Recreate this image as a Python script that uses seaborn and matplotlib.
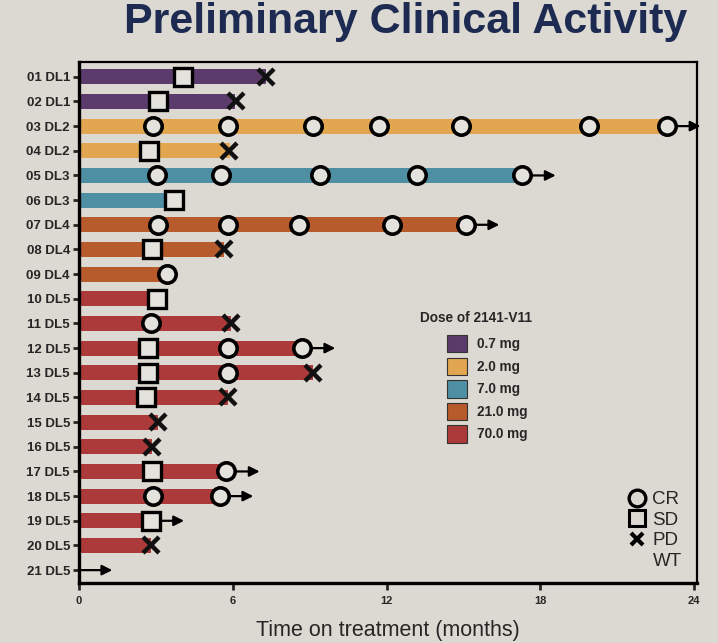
import matplotlib
matplotlib.use('Agg')
import matplotlib.pyplot as plt
from matplotlib.patches import Patch
from matplotlib.lines import Line2D
import seaborn as sns
import pandas as pd

# Datos del gráfico
patients = ['01 DL1', '02 DL1', '03 DL2', '04 DL2', '05 DL3', '06 DL3', '07 DL4',
            '08 DL4', '09 DL4', '10 DL5', '11 DL5', '12 DL5', '13 DL5', '14 DL5',
            '15 DL5', '16 DL5', '17 DL5', '18 DL5', '19 DL5', '20 DL5', '21 DL5']
doses = ['0.7 mg', '0.7 mg', '2.0 mg', '2.0 mg', '7.0 mg', '7.0 mg', '21.0 mg',
         '21.0 mg', '21.0 mg', '70.0 mg', '70.0 mg', '70.0 mg', '70.0 mg', '70.0 mg',
         '70.0 mg', '70.0 mg', '70.0 mg', '70.0 mg', '70.0 mg', '70.0 mg', '70.0 mg']
months = [7.3, 6.1, 22.95, 5.9, 17.3, 3.7, 15.1, 5.65, 3.45, 3.05, 5.95,
          8.7, 9.15, 5.8, 3.1, 2.85, 5.75, 5.5, 2.8, 2.8, 0.0]

dose_levels = ['0.7 mg', '2.0 mg', '7.0 mg', '21.0 mg', '70.0 mg']
dose_colors = ['#5b3b6b', '#e1a64f', '#4f8fa4', '#b75a2c', '#ad3a3b']

# Respuestas: (paciente, mes)
cr_patients = ['03 DL2'] * 7 + ['05 DL3'] * 5 + ['07 DL4'] * 5 + ['09 DL4', '11 DL5',
               '12 DL5', '12 DL5', '13 DL5', '17 DL5', '18 DL5', '18 DL5']
cr_months = [2.88, 5.8, 9.15, 11.7, 14.9, 19.9, 22.95,
             3.03, 5.55, 9.4, 13.2, 17.3,
             3.1, 5.8, 8.6, 12.2, 15.1,
             3.45, 2.8, 5.8, 8.7, 5.8, 5.75, 2.9, 5.5]
sd_patients = ['01 DL1', '02 DL1', '04 DL2', '06 DL3', '08 DL4', '10 DL5', '12 DL5',
               '13 DL5', '14 DL5', '17 DL5', '19 DL5']
sd_months = [4.06, 3.09, 2.75, 3.7, 2.85, 3.05, 2.7, 2.7, 2.6, 2.85, 2.8]
pd_patients = ['01 DL1', '02 DL1', '04 DL2', '08 DL4', '11 DL5', '13 DL5', '14 DL5',
               '15 DL5', '16 DL5', '20 DL5']
pd_months = [7.3, 6.13, 5.87, 5.65, 5.95, 9.15, 5.8, 3.1, 2.85, 2.8]
ongoing = ['03 DL2', '05 DL3', '07 DL4', '12 DL5', '17 DL5', '18 DL5', '19 DL5', '21 DL5']

df = pd.DataFrame({'patient': patients, 'months': months, 'dose': doses})

sns.set_style('ticks')
plt.rcParams['font.family'] = ['Liberation Sans', 'DejaVu Sans']

bg = '#dbd9d1'
fig = plt.figure(figsize=(7.18, 6.43), dpi=100, facecolor=bg)
ax = fig.add_axes([0.110, 0.093, 0.861, 0.811], facecolor=bg)

sns.barplot(data=df, y='patient', x='months', hue='dose', order=patients,
            hue_order=dose_levels, palette=dict(zip(dose_levels, dose_colors)),
            dodge=False, width=0.6, saturation=1, legend=False, linewidth=0,
            ax=ax, zorder=2)

pos = {p: i for i, p in enumerate(patients)}

# Flechas de tratamiento en curso
for p in ongoing:
    end = months[patients.index(p)]
    ax.annotate('', xy=(end + 1.3, pos[p]), xytext=(end, pos[p]),
                arrowprops=dict(arrowstyle='-|>', color='black', lw=1.6,
                                mutation_scale=15, shrinkA=0, shrinkB=0),
                annotation_clip=False, zorder=3)

face = '#e4e2dc'
ax.plot(cr_months, [pos[p] for p in cr_patients], 'o', ms=12.5, mfc=face, mec='black',
        mew=2.6, ls='none', zorder=4)
ax.plot(sd_months, [pos[p] for p in sd_patients], 's', ms=12.5, mfc=face, mec='black',
        mew=2.4, ls='none', zorder=4)
ax.plot(pd_months, [pos[p] for p in pd_patients], 'x', ms=12, mec='#111111',
        mew=3.2, ls='none', zorder=4)

ax.set_xlim(0, 24.12)
ax.set_ylim(20.53, -0.61)
ax.set_xticks([0, 6, 12, 18, 24])
ax.set_xlabel('Time on treatment (months)', fontsize=15.5, labelpad=10)
ax.set_ylabel('')
for lbl in ax.get_yticklabels():
    lbl.set_fontweight('bold')
    lbl.set_fontsize(9.5)
for lbl in ax.get_xticklabels():
    lbl.set_fontweight('bold')
    lbl.set_fontsize(8)
ax.tick_params(axis='y', length=4.5, width=2, pad=2)
ax.tick_params(axis='x', length=5, width=2, pad=4)
for side in ['left', 'bottom']:
    ax.spines[side].set_linewidth(2.4)
for side in ['top', 'right']:
    ax.spines[side].set_linewidth(1.6)
for s in ax.spines.values():
    s.set_color('black')

# Leyenda de dosis
ax.text(0.552, 0.508, 'Dose of 2141-V11', transform=ax.transAxes, fontsize=9.8,
        fontweight='bold', va='center', ha='left')
dose_handles = [Patch(facecolor=c, edgecolor='#333333', lw=0.8) for c in dose_colors]
leg1 = ax.legend(dose_handles, dose_levels, loc='upper left',
                 bbox_to_anchor=(0.585, 0.489), frameon=False, handlelength=1.45,
                 handleheight=1.6, labelspacing=0.37, handletextpad=0.75,
                 prop={'weight': 'bold', 'size': 9.8}, borderpad=0)
ax.add_artist(leg1)

# Leyenda de respuesta
resp_handles = [
    Line2D([], [], marker='o', ms=12, mfc='none', mec='black', mew=2.4, ls='none'),
    Line2D([], [], marker='s', ms=12, mfc='none', mec='black', mew=2.2, ls='none'),
    Line2D([], [], marker='x', ms=9, mec='black', mew=3, ls='none'),
    Line2D([], [], ls='none'),
]
ax.legend(resp_handles, ['CR', 'SD', 'PD', 'WT'], loc='lower right',
          bbox_to_anchor=(0.99, 0.008), frameon=False, fontsize=13.5,
          handlelength=1.0, handletextpad=0.35, labelspacing=0.18, borderpad=0)

fig.text(0.565, 0.948, 'Preliminary Clinical Activity', fontsize=31,
         fontweight='bold', color='#1d2b52', ha='center', va='baseline')

fig.savefig('out.png', dpi=100, facecolor=bg)
